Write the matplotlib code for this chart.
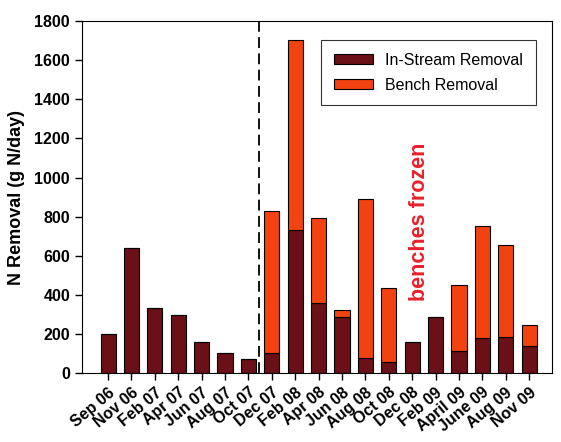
import numpy as np
import matplotlib
matplotlib.use("Agg")
import matplotlib.pyplot as plt

plt.rcParams['font.family'] = ['Liberation Sans', 'DejaVu Sans']

months = ["Sep 06", "Nov 06", "Feb 07", "Apr 07", "Jun 07", "Aug 07", "Oct 07",
          "Dec 07", "Feb 08", "Apr 08", "Jun 08", "Aug 08", "Oct 08", "Dec 08",
          "Feb 09", "April 09", "June 09", "Aug 09", "Nov 09"]
instream = [200, 638, 331, 297, 158, 102, 72,
            105, 731, 360, 288, 78, 56, 160,
            285, 111, 181, 184, 140]
total = [200, 638, 331, 297, 158, 102, 72,
         828, 1702, 791, 322, 891, 436, 160,
         285, 450, 753, 654, 244]
bench = [t - s for t, s in zip(total, instream)]

dark = '#6a1016'
orange = '#f2420f'

fig = plt.figure(figsize=(5.61, 4.42), dpi=100)
ax = fig.add_axes([0.146, 0.156, 0.838, 0.796])
x = np.arange(len(months))
ax.bar(x, instream, width=0.65, color=dark, edgecolor='black', linewidth=0.8,
       label='In-Stream Removal', zorder=2)
ax.bar(x, bench, width=0.65, bottom=instream, color=orange, edgecolor='black',
       linewidth=0.8, label='Bench Removal', zorder=2)

ax.axvline(6.45, color='black', linestyle=(0, (6, 3)), linewidth=1.3, zorder=3)
ax.text(13.3, 775, 'benches frozen', rotation=90, color='#e8202a', fontsize=15.5,
        fontweight='bold', ha='center', va='center')

ax.set_xlim(-1.12, 18.98)
ax.set_ylim(0, 1800)
ax.set_yticks(np.arange(0, 1801, 200))
ax.set_xticks(x)
ax.set_xticklabels(months, rotation=40, ha='right', rotation_mode='anchor',
                   fontsize=11.5, fontweight='bold')
for lab in ax.get_yticklabels():
    lab.set_fontweight('bold')
    lab.set_fontsize(11.5)
ax.tick_params(axis='both', direction='out', length=5, width=1)
ax.set_ylabel('N Removal (g N/day)', fontsize=13, fontweight='bold')
ax.yaxis.set_label_coords(-0.121, 0.5)

leg = ax.legend(loc='upper right', bbox_to_anchor=(0.966, 0.946), fontsize=11.5,
                frameon=True, fancybox=False, edgecolor='black', borderaxespad=0,
                handlelength=2.4, handleheight=0.6, borderpad=0.8, labelspacing=0.6)
leg.get_frame().set_linewidth(0.8)

plt.savefig('out.png', dpi=100)
